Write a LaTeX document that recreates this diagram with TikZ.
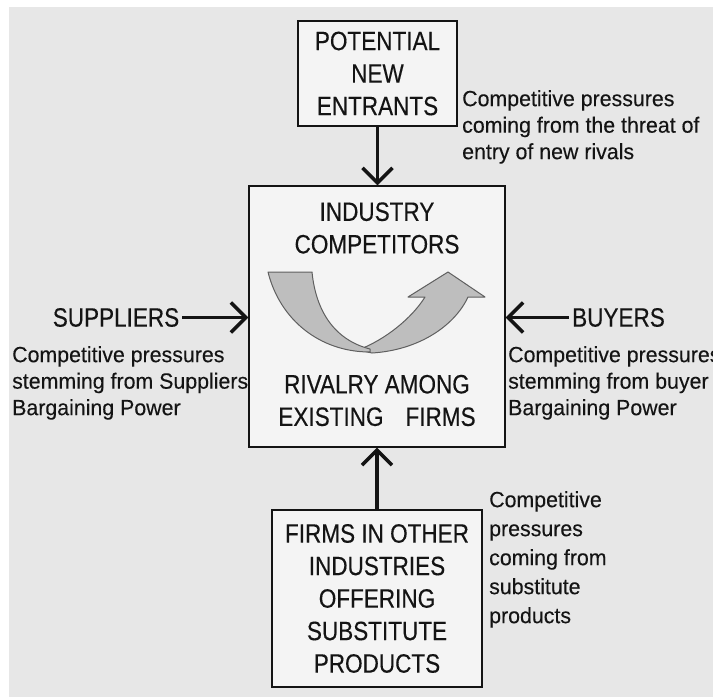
\documentclass[tikz,border=0pt]{standalone}
\usepackage{fontspec}
\usetikzlibrary{arrows.meta}

\newfontfamily\capsfont[FakeStretch=0.85,FakeBold=0.3]{Liberation Sans}
\newfontfamily\notefont[FakeStretch=0.97,FakeBold=0.2]{Liberation Sans}

\definecolor{paper}{RGB}{231,231,231}
\definecolor{boxfill}{RGB}{244,244,244}
\definecolor{ribbonfill}{RGB}{190,190,190}
\definecolor{ribbonline}{RGB}{95,95,95}
\definecolor{ink}{RGB}{20,20,20}

\tikzset{
  forcebox/.style={draw=ink, line width=1.3pt, fill=boxfill, align=center,
    inner sep=0pt, text=ink, font=\capsfont\fontsize{26.5}{32.5}\selectfont},
  caps/.style={align=center, inner sep=3pt, text=ink,
    font=\capsfont\fontsize{26.5}{32.5}\selectfont},
  note/.style={align=left, anchor=north west, inner sep=0pt, text=ink,
    font=\notefont\fontsize{22}{26.5}\selectfont},
  force/.style={draw=ink, line width=3.5pt,
    -{Straight Barb[length=15pt,width=30pt]}},
  ribbon/.style={fill=ribbonfill, draw=ribbonline, line width=1pt, line join=round},
}

\begin{document}
\begin{tikzpicture}[x=1pt,y=-1pt]
\useasboundingbox (0,0) rectangle (713,697);
\fill[white] (0,0) rectangle (713,697);
\fill[paper] (9,7) rectangle (713,697);

% the boxes
\node[forcebox, minimum width=159pt, minimum height=105pt] (entrants) at (377.5,73.5)
  {POTENTIAL\\NEW\\ENTRANTS};
\node[forcebox, minimum width=256pt, minimum height=261pt] (rivalry) at (377,316.5) {};
\node[forcebox, minimum width=210pt, minimum height=177pt] (substitutes) at (377,598.5)
  {FIRMS IN OTHER\\INDUSTRIES\\OFFERING\\SUBSTITUTE\\PRODUCTS};
\node[caps] (suppliers) at (116,317.5) {SUPPLIERS};
\node[caps] (buyers) at (618.5,317.5) {BUYERS};

% inside the rivalry box
\node[caps] (industry) at (377,228) {INDUSTRY\\COMPETITORS};
\node[caps] (among) at (377,400.5) {RIVALRY AMONG\\EXISTING\hspace{22pt}FIRMS};

% twisted arrow, right half then left half
\filldraw[ribbon] (358,350) .. controls (385,340) and (412,318) .. (425,297)
  -- (408,297) -- (448,272) -- (485,297) -- (468,297)
  .. controls (455,325) and (420,350) .. (372,353) -- cycle;
\filldraw[ribbon] (268,272) -- (312,272) .. controls (316,312) and (335,340) .. (370,349)
  -- (370,352) .. controls (320,352) and (280,320) .. cycle;

% forces acting on the industry
\draw[force] (entrants.south) -- (entrants.south |- rivalry.north);
\draw[force] (substitutes.north) -- (substitutes.north |- rivalry.south);
\draw[force] (suppliers.east) -- (suppliers.east -| rivalry.west);
\draw[force] (buyers.west) -- (buyers.west -| rivalry.east);

% notes
\node[note] (entrynote) at (462,90)
  {Competitive pressures\\coming from the threat of\\entry of new rivals};
\node[note] (suppliernote) at (12,346)
  {Competitive pressures\\stemming from Suppliers\\Bargaining Power};
\node[note] (buyernote) at (508,346)
  {Competitive pressures\\stemming from buyer\\Bargaining Power};
\node[note, font=\notefont\fontsize{22}{29}\selectfont] (substitutenote) at (489,491)
  {Competitive\\pressures\\coming from\\substitute\\products};
\end{tikzpicture}
\end{document}
